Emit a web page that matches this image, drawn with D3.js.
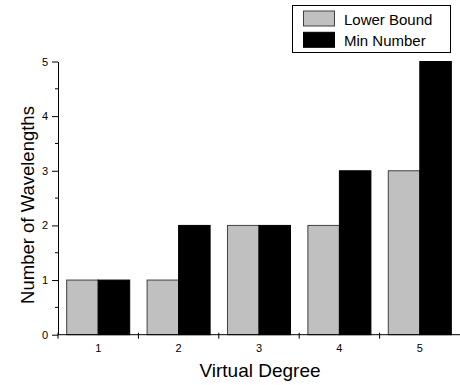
<!DOCTYPE html>
<html>
<head>
<meta charset="utf-8">
<script src="https://cdn.jsdelivr.net/npm/d3@7"></script>
<style>
  body { margin: 0; background: #fff; }
  svg { display: block; font-family: "Liberation Sans", Arial, sans-serif; }
</style>
</head>
<body>
<div id="vis"></div>
<script>
// data
const degrees = ["1", "2", "3", "4", "5"];
const lowerBound = [1, 1, 2, 2, 3];
const minNumber = [1, 2, 2, 3, 5];
const yTicks = [0, 1, 2, 3, 4, 5];
const seriesNames = ["Lower Bound", "Min Number"];
const seriesColors = ["#c0c0c0", "#000000"];

const WIDTH = 460;
const HEIGHT = 385;
const MARGINS = {left: 58, right: 0, top: 61.5, bottom: 50.3};

const svg = d3.select("#vis")
  .append("svg")
    .attr("width", WIDTH)
    .attr("height", HEIGHT);

const xScale = d3.scaleBand()
  .domain(degrees)
  .range([MARGINS.left, WIDTH - MARGINS.right])
  .paddingInner(0.216)
  .paddingOuter(0.108);

const xInner = d3.scaleBand()
  .domain(seriesNames)
  .range([0, xScale.bandwidth()]);

const yScale = d3.scaleLinear()
  .domain([0, 5])
  .range([HEIGHT - MARGINS.bottom, MARGINS.top]);

// bars
const rows = degrees.map((d, i) => ({deg: d, vals: [lowerBound[i], minNumber[i]]}));

const groups = svg.selectAll(".grp")
  .data(rows)
  .enter()
  .append("g")
    .attr("transform", d => `translate(${xScale(d.deg)},0)`);

groups.selectAll("rect")
  .data(d => d.vals.map((v, j) => ({name: seriesNames[j], v: v, j: j})))
  .enter()
  .append("rect")
    .attr("x", d => xInner(d.name))
    .attr("y", d => yScale(d.v))
    .attr("width", xInner.bandwidth())
    .attr("height", d => yScale(0) - yScale(d.v))
    .attr("fill", d => seriesColors[d.j])
    .attr("stroke", d => d.j === 0 ? "#404040" : "#000")
    .attr("stroke-width", 1);

// y axis
const yAxis = svg.append("g")
  .attr("transform", `translate(${MARGINS.left},0)`)
  .call(d3.axisLeft(yScale).tickValues(yTicks).tickFormat(d3.format("d"))
    .tickSize(6).tickSizeOuter(0).tickPadding(4));
yAxis.selectAll("text").attr("font-size", 11).attr("font-family", "Liberation Sans, Arial, sans-serif");

// minor ticks
svg.append("g")
  .selectAll("line")
  .data(d3.range(0.5, 5, 1))
  .enter()
  .append("line")
    .attr("x1", MARGINS.left - 3)
    .attr("x2", MARGINS.left)
    .attr("y1", d => yScale(d))
    .attr("y2", d => yScale(d))
    .attr("stroke", "#000");

// x axis
const xAxis = svg.append("g")
  .attr("transform", `translate(0,${yScale(0)})`)
  .call(d3.axisBottom(xScale).tickSize(0).tickPadding(10));
xAxis.select(".domain").attr("d", `M${MARGINS.left},0H${WIDTH}`);
xAxis.selectAll("text").attr("font-size", 11).attr("font-family", "Liberation Sans, Arial, sans-serif");

// boundary ticks between categories
xAxis.selectAll(".bnd")
  .data(d3.range(0, degrees.length))
  .enter()
  .append("line")
    .attr("x1", i => MARGINS.left + i * xScale.step())
    .attr("x2", i => MARGINS.left + i * xScale.step())
    .attr("y1", -2)
    .attr("y2", 4)
    .attr("stroke", "#000");

// axis titles
svg.append("text")
  .attr("x", 260)
  .attr("y", 377)
  .attr("text-anchor", "middle")
  .attr("font-size", 19)
  .text("Virtual Degree");

svg.append("text")
  .attr("transform", `translate(34,205) rotate(-90)`)
  .attr("text-anchor", "middle")
  .attr("font-size", 18.5)
  .text("Number of Wavelengths");

// legend
const legend = svg.append("g");
legend.append("rect")
  .attr("x", 292.5).attr("y", 5.5)
  .attr("width", 158).attr("height", 47)
  .attr("fill", "#fff").attr("stroke", "#000");

seriesNames.forEach((name, i) => {
  legend.append("rect")
    .attr("x", 303.5).attr("y", 11 + i * 21.3)
    .attr("width", 31).attr("height", 15)
    .attr("fill", seriesColors[i])
    .attr("stroke", i === 0 ? "#404040" : "#000");
  legend.append("text")
    .attr("x", 344).attr("y", 24.5 + i * 21.3)
    .attr("font-size", 15)
    .text(name);
});
</script>
</body>
</html>
